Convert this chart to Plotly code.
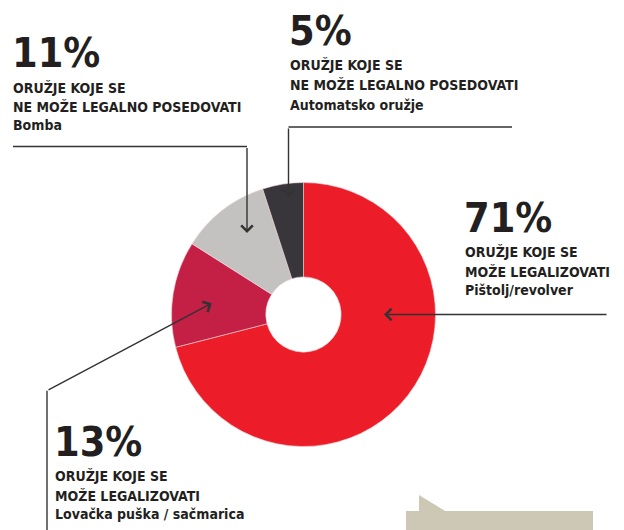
import plotly.graph_objects as go

# data
categories = ["Pištolj/revolver", "Lovačka puška / sačmarica", "Bomba", "Automatsko oružje"]
values = [71, 13, 11, 5]
groups = ["MOŽE LEGALIZOVATI", "MOŽE LEGALIZOVATI", "NE MOŽE LEGALNO POSEDOVATI", "NE MOŽE LEGALNO POSEDOVATI"]
colors = ["#ED1C29", "#C41F45", "#C4C2C1", "#38363B"]

# page has an 8px body margin, so the figure is drawn 8px in from the window corner
OFF = 8
W, H = 624 - OFF, 530 - OFF
FONT = "DejaVu Sans Condensed, Liberation Sans Narrow, sans-serif"


def px(x):
    return (x - OFF) / W


def py(y):
    return 1 - (y - OFF) / H


fig = go.Figure(go.Pie(
    labels=categories,
    values=values,
    sort=False,
    direction="clockwise",
    rotation=0,
    hole=0.285,
    marker=dict(colors=colors, line=dict(color="#f4d6d8", width=0.6)),
    textinfo="none",
    showlegend=False,
    domain=dict(x=[px(171.5), px(435.5)], y=[py(446.5), py(182.5)]),
))

annotations = []
shapes = []

# label blocks: (category index, x, y of big number, y of 3 text lines)
blocks = [
    (2, 13, 53, [88, 106.5, 125]),
    (3, 290, 31, [64.5, 85, 105]),
    (0, 465, 218, [252, 272, 290]),
    (1, 55, 442, [476, 496, 514]),
]
for i, x, ybig, ylines in blocks:
    annotations.append(dict(
        x=px(x - 3), y=py(ybig), xref="paper", yref="paper", xanchor="left", yanchor="middle",
        text="<b>%d%%</b>" % values[i], showarrow=False,
        font=dict(family=FONT, size=41, color="#231F20")))
    lines = ["<b>ORUŽJE KOJE SE</b>", "<b>" + groups[i] + "</b>", "<b>" + categories[i] + "</b>"]
    for t, yl in zip(lines, ylines):
        annotations.append(dict(
            x=px(x - 2), y=py(yl), xref="paper", yref="paper", xanchor="left", yanchor="middle",
            text=t, showarrow=False,
            font=dict(family=FONT, size=14, color="#231F20")))

# leader lines
line_style = dict(color="#333333", width=1.4)
for x0, y0, x1, y1 in [(13, 146.5, 247, 146.5), (288.5, 127, 512, 127), (47, 390.7, 47, 532)]:
    shapes.append(dict(type="line", xref="paper", yref="paper",
                       x0=px(x0), y0=py(y0), x1=px(x1), y1=py(y1), line=line_style))

# arrows: head position and tail offset in pixels
for hx, hy, ax, ay in [(247, 233, 0, -86.5), (288.5, 197, 0, -70),
                       (384, 314.5, 224, 0), (211.7, 303.3, -164.7, 87.4)]:
    annotations.append(dict(
        x=px(hx), y=py(hy), xref="paper", yref="paper", ax=ax, ay=ay,
        text="", showarrow=True, arrowhead=4, arrowsize=1.6, arrowwidth=1.4,
        arrowcolor="#333333", standoff=0, startstandoff=0))

# beige box in the bottom right corner
shapes.append(dict(type="rect", xref="paper", yref="paper",
                   x0=px(406), y0=py(511), x1=px(593), y1=py(532),
                   fillcolor="#CDC8B5", line=dict(width=0), layer="above"))
shapes.append(dict(type="path", xref="paper", yref="paper",
                   path="M %f %f L %f %f L %f %f Z" % (px(419), py(495), px(419), py(511.5), px(446), py(511.5)),
                   fillcolor="#CDC8B5", line=dict(width=0), layer="above"))

fig.update_layout(
    width=W, height=H,
    margin=dict(l=0, r=0, t=0, b=0),
    paper_bgcolor="white",
    plot_bgcolor="white",
    annotations=annotations,
    shapes=shapes,
)

fig.write_html("out.html")
